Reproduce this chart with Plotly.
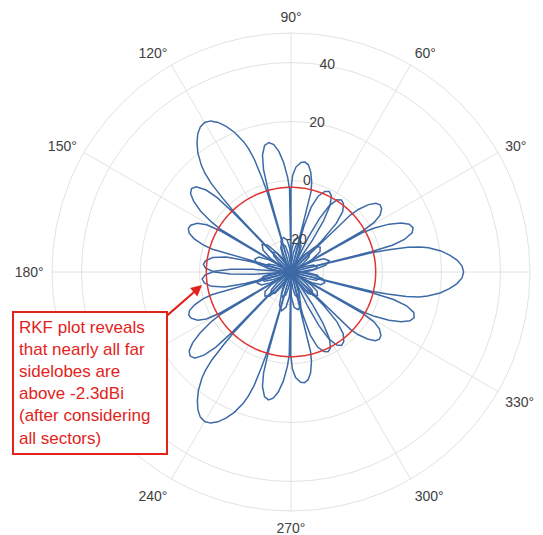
import numpy as np
import plotly.graph_objects as go

# ---- data ----
SECTOR_AZIMUTH_DEG = [0, 120, 240]

# one sector's azimuth pattern (offset from sector boresight, gain in dBi)
PATTERN_OFFSET_DEG = [
    -180, -178, -175, -171, -166, -161, -157, -154, -152,
    -150, -147, -143, -137.5, -132, -128, -125, -123,
    -121, -118, -114, -108.5, -103, -99, -96, -94,
    -92, -89, -85, -79.5, -74, -70, -67, -65,
    -64, -62.5, -60.5, -58, -55.5, -52.8, -49.8, -47.3, -45.8, -44.6,
    -44, -43, -41.2, -39.2, -37.2, -35.2, -32.7, -31, -30, -29.5,
    -29, -28, -26.2, -24.3, -22.3, -20.3, -18.2, -16.3, -15, -14.3, -13.9,
    -13.4, -12.8, -12, -11, -10, -8, -6, -4, -2,
    0,
    2, 4, 6, 8, 10, 11, 12, 12.8, 13.4, 13.8,
    14.2, 14.8, 16, 18, 20, 22, 24, 26, 27.8, 28.8, 29.3,
    29.8, 30.8, 32.5, 35, 37, 39, 41, 42.8, 43.8, 44.4,
    45.5, 47, 49.5, 52.5, 55, 57.5, 60, 62, 63.5, 64.5,
    66.5, 69.5, 73.5, 78.5, 83.5, 87.5, 90.5, 93,
    95, 98, 102, 107.5, 113, 117, 120, 122,
    124, 127, 131, 136.5, 142, 146, 149, 151,
    153, 156, 160, 165.5, 171, 175, 178, 180,
]
PATTERN_GAIN_DBI = [
    -31, -27.5, -24.5, -21.5, -20.5, -21.5, -24.5, -27.5, -31,
    -27, -23, -20, -19, -20, -23, -27, -31,
    -28, -25.5, -23, -22, -23, -25.5, -28, -31,
    -26.5, -22.5, -19, -18, -19, -22.5, -26.5, -31,
    -18, -10.5, -5, -1.8, -0.8, -1.4, -3.6, -8, -15, -31,
    -3, 0.2, 3.5, 5.8, 6.6, 6.3, 4.6, 1.8, -3, -31,
    -3, 1.0, 6.0, 10.0, 12.6, 13.5, 12.8, 9.8, 5.0, -3, -31,
    -3, 2.5, 9.0, 13.2, 16.0, 20.0, 23.0, 25.4, 27.0,
    27.5,
    27.0, 25.5, 23.2, 20.3, 16.3, 13.6, 9.5, 3.0, -3.0, -31,
    -3.0, 4.5, 9.0, 12.2, 13.0, 12.2, 9.8, 6.0, 1.0, -3.0, -31,
    -3.0, 1.8, 4.8, 6.5, 6.8, 6.0, 3.8, 0.3, -3.0, -31,
    -16, -8.5, -4.0, -1.8, -1.2, -2.0, -5.0, -10.5, -18, -31,
    -27, -23, -20, -19, -20, -23, -27, -31,
    -28, -25, -22, -21, -22, -25, -28, -31,
    -27, -22.5, -19, -17.5, -19, -22.5, -27, -31,
    -28, -25.5, -23, -22, -23, -25.5, -28, -31,
]

THRESHOLD_DBI = -2.3
RADIAL_TICKS = [-20, 0, 20, 40]
RADIAL_TICK_LABELS = ["-20", "0", "20", "40"]
ANGLE_TICKS = list(range(0, 360, 30))
ANGLE_TICK_LABELS = [f"{a}\u00b0" for a in ANGLE_TICKS]
R_RANGE = [-31, 50]

NOTE_TEXT = ("RKF plot reveals<br>that nearly all far<br>sidelobes are<br>"
             "above -2.3dBi<br>(after considering<br>all sectors)")

# ---- figure ----
BLUE = "#3d6aa6"
RED = "#df3434"
NOTE_RED = "#e3231b"
GRID = "#e2e2e2"
FONT = "Liberation Sans, Arial, Helvetica, sans-serif"

fig = go.Figure()

for az in SECTOR_AZIMUTH_DEG:
    fig.add_trace(go.Scatterpolar(
        r=PATTERN_GAIN_DBI,
        theta=[o + az for o in PATTERN_OFFSET_DEG],
        mode="lines",
        line=dict(color=BLUE, width=1.5),
        hoverinfo="skip",
    ))

circle_theta = np.arange(0, 361, 1)
fig.add_trace(go.Scatterpolar(
    r=[THRESHOLD_DBI] * len(circle_theta),
    theta=circle_theta,
    mode="lines",
    line=dict(color=RED, width=1.5),
    hoverinfo="skip",
))

# radial tick labels placed along the 80 deg direction
fig.add_trace(go.Scatterpolar(
    r=RADIAL_TICKS,
    theta=[80] * len(RADIAL_TICKS),
    mode="text",
    text=RADIAL_TICK_LABELS,
    textfont=dict(family=FONT, size=14, color="#404040"),
    textposition="middle center",
    hoverinfo="skip",
))

# the page body adds an 8 px offset; margins compensate for it
fig.update_layout(
    width=543, height=535,
    margin=dict(l=44, r=21, t=25, b=32),
    paper_bgcolor="white",
    showlegend=False,
    font=dict(family=FONT, size=14, color="#404040"),
    polar=dict(
        bgcolor="white",
        domain=dict(x=[0, 1], y=[0, 1]),
        radialaxis=dict(
            range=R_RANGE,
            tickvals=RADIAL_TICKS,
            showticklabels=False,
            ticks="",
            showline=False,
            gridcolor=GRID,
            gridwidth=1,
            angle=80,
        ),
        angularaxis=dict(
            direction="counterclockwise",
            rotation=0,
            tickvals=ANGLE_TICKS,
            ticktext=ANGLE_TICK_LABELS,
            ticks="outside",
            ticklen=5,
            tickcolor="rgba(0,0,0,0)",
            showline=True,
            linecolor=GRID,
            linewidth=1,
            gridcolor=GRID,
            gridwidth=1,
            tickfont=dict(family=FONT, size=14, color="#404040"),
        ),
    ),
)

fig.add_annotation(
    xref="paper", yref="paper",
    x=(202 - 52) / 478, y=1 - (285 - 33) / 478,
    ax=-112, ay=98,
    text=NOTE_TEXT,
    width=142,
    showarrow=True,
    arrowhead=2, arrowsize=1.1, arrowwidth=2, arrowcolor=NOTE_RED,
    align="left",
    font=dict(family=FONT, size=17, color=NOTE_RED),
    bgcolor="white",
    bordercolor=NOTE_RED,
    borderwidth=2,
    borderpad=5,
)

fig.write_html("out.html")
